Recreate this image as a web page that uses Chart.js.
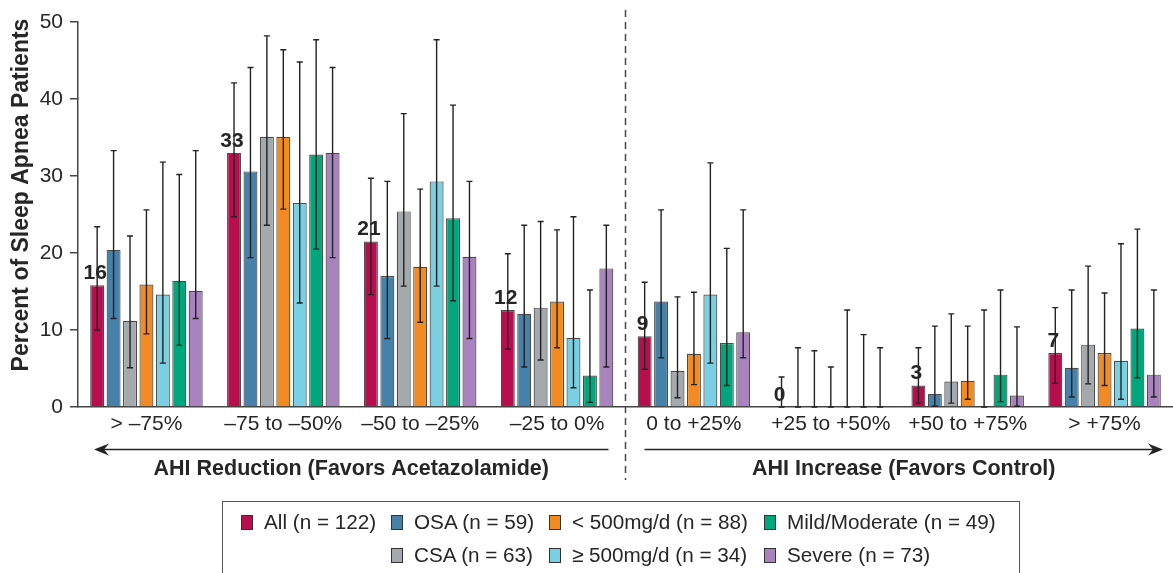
<!DOCTYPE html>
<html>
<head>
<meta charset="utf-8">
<script src="https://cdn.jsdelivr.net/npm/chart.js@4.4.1/dist/chart.umd.min.js"></script>
<style>
  body { margin: 0; background: #fff; font-family: "Liberation Sans", Arial, sans-serif; }
  #wrap { position: relative; width: 1173px; height: 573px; overflow: hidden; }
  #legend { position: absolute; left: 222px; top: 501px; width: 798px; height: 90px; border: 1.5px solid #555; box-sizing: border-box; }
  .item { position: absolute; font-size: 20.7px; color: #262626; white-space: nowrap; line-height: 24px; }
  .sw { display: inline-block; width: 10px; height: 13px; border: 1px solid #333; vertical-align: -1px; margin-right: 11px; }
</style>
</head>
<body>
<div id="wrap">
  <canvas id="chart" width="1173" height="573"></canvas>
  <div id="legend"></div>
</div>
<script>
// categories (AHI change)
const categories = ['> \u201375%', '\u201375 to \u201350%', '\u201350 to \u201325%', '\u201325 to 0%', '0 to +25%', '+25 to +50%', '+50 to +75%', '> +75%'];

// percent of patients, with lower / upper error limits
const allVals = [15.8, 33.0, 21.5, 12.6, 9.2, 0, 2.8, 7.0];
const allLo = [10.0, 24.7, 14.6, 7.5, 4.9, 0, 0.5, 3.1];
const allHi = [23.4, 42.1, 29.7, 19.9, 16.2, 3.9, 7.7, 12.9];

const osaVals = [20.4, 30.6, 17.0, 12.1, 13.7, 0, 1.7, 5.1];
const osaLo = [11.5, 19.4, 8.9, 5.2, 6.4, 0, 0.1, 1.3];
const osaHi = [33.3, 44.1, 29.3, 23.6, 25.6, 7.7, 10.5, 15.2];

const csaVals = [11.2, 35.1, 25.4, 12.9, 4.7, 0, 3.3, 8.1];
const csaLo = [5.1, 23.6, 15.7, 6.1, 1.2, 0, 0.5, 3.0];
const csaHi = [22.2, 48.2, 38.1, 24.1, 14.3, 7.3, 12.1, 18.3];

const lowDoseVals = [15.9, 35.1, 18.2, 13.7, 6.9, 0, 3.4, 7.0];
const lowDoseLo = [9.5, 25.7, 11.0, 7.7, 2.9, 0, 1.0, 2.8];
const lowDoseHi = [25.6, 46.4, 28.3, 23.0, 14.9, 5.2, 10.5, 14.8];

const highDoseVals = [14.6, 26.5, 29.3, 9.0, 14.6, 0, 0, 6.0];
const highDoseLo = [5.7, 13.5, 15.7, 2.5, 5.7, 0, 0, 1.0];
const highDoseHi = [31.8, 44.8, 47.7, 24.7, 31.7, 12.6, 12.6, 21.2];

const mildVals = [16.4, 32.8, 24.5, 4.1, 8.3, 0, 4.2, 10.2];
const mildLo = [8.0, 20.5, 13.8, 0.6, 2.8, 0, 0.7, 3.8];
const mildHi = [30.2, 47.7, 39.2, 15.2, 20.6, 9.4, 15.2, 23.1];

const severeVals = [15.1, 33.0, 19.5, 18.0, 9.7, 0, 1.5, 4.2];
const severeLo = [11.5, 19.4, 8.9, 5.2, 6.4, 0, 0.1, 1.3];
const severeHi = [33.3, 44.1, 29.3, 23.6, 25.6, 7.7, 10.4, 15.2];

// rounded labels above the "All" bars
const allLabels = ['16', '33', '21', '12', '9', '0', '3', '7'];

const yTicks = [0, 10, 20, 30, 40, 50];

const series = [
  { label: 'All (n = 122)', data: allVals, lo: allLo, hi: allHi, color: '#B70F4E' },
  { label: 'OSA (n = 59)', data: osaVals, lo: osaLo, hi: osaHi, color: '#4581A9' },
  { label: 'CSA (n = 63)', data: csaVals, lo: csaLo, hi: csaHi, color: '#A3A9AC' },
  { label: '< 500mg/d (n = 88)', data: lowDoseVals, lo: lowDoseLo, hi: lowDoseHi, color: '#F28C22' },
  { label: '\u2265 500mg/d (n = 34)', data: highDoseVals, lo: highDoseLo, hi: highDoseHi, color: '#7AD0E3' },
  { label: 'Mild/Moderate (n = 49)', data: mildVals, lo: mildLo, hi: mildHi, color: '#00A77C' },
  { label: 'Severe (n = 73)', data: severeVals, lo: severeLo, hi: severeHi, color: '#A883BE' }
];

const FONT = '"Liberation Sans", Arial, sans-serif';
const INK = '#262626';

// error bars, value labels, divider, arrows and titles
const extras = {
  id: 'extras',
  afterDatasetsDraw(chart) {
    const ctx = chart.ctx;
    const y = chart.scales.y;
    ctx.save();
    ctx.strokeStyle = '#222';
    ctx.lineWidth = 1.4;
    chart.data.datasets.forEach((ds, i) => {
      const meta = chart.getDatasetMeta(i);
      meta.data.forEach((bar, j) => {
        const yl = y.getPixelForValue(ds.lo[j]);
        const yh = y.getPixelForValue(ds.hi[j]);
        ctx.beginPath();
        ctx.moveTo(bar.x, yl); ctx.lineTo(bar.x, yh);
        ctx.moveTo(bar.x - 3, yl); ctx.lineTo(bar.x + 3, yl);
        ctx.moveTo(bar.x - 3, yh); ctx.lineTo(bar.x + 3, yh);
        ctx.stroke();
      });
    });

    // labels above All bars
    ctx.fillStyle = INK;
    ctx.font = 'bold 21px ' + FONT;
    ctx.textAlign = 'center';
    ctx.textBaseline = 'alphabetic';
    chart.getDatasetMeta(0).data.forEach((bar, j) => {
      ctx.fillText(allLabels[j], bar.x - 2, bar.y - 6);
    });
    ctx.restore();
  },
  afterDraw(chart) {
    const ctx = chart.ctx;
    const x = chart.scales.x;
    const xDiv = (x.getPixelForValue(3) + x.getPixelForValue(4)) / 2;
    ctx.save();
    ctx.strokeStyle = '#444';
    ctx.lineWidth = 1.5;
    ctx.setLineDash([7, 5]);
    ctx.beginPath();
    ctx.moveTo(xDiv, 10); ctx.lineTo(xDiv, 480);
    ctx.stroke();
    ctx.setLineDash([]);

    // arrows
    const ay = 449.5;
    const arrow = (x0, x1) => {
      const dir = Math.sign(x1 - x0);
      ctx.strokeStyle = '#222';
      ctx.lineWidth = 1.6;
      ctx.beginPath();
      ctx.moveTo(x0, ay); ctx.lineTo(x1 - dir * 8, ay);
      ctx.stroke();
      ctx.fillStyle = '#222';
      ctx.beginPath();
      ctx.moveTo(x1, ay);
      ctx.lineTo(x1 - dir * 15, ay - 6);
      ctx.lineTo(x1 - dir * 10, ay);
      ctx.lineTo(x1 - dir * 15, ay + 6);
      ctx.closePath();
      ctx.fill();
    };
    arrow(xDiv - 17, 94);
    arrow(xDiv + 19, 1163);

    ctx.fillStyle = INK;
    ctx.font = 'bold 21.5px ' + FONT;
    ctx.textAlign = 'center';
    ctx.textBaseline = 'middle';
    ctx.fillText('AHI Reduction (Favors Acetazolamide)', (94 + xDiv - 17) / 2, 469);
    ctx.fillText('AHI Increase (Favors Control)', (xDiv + 19 + 1163) / 2, 469);

    // y axis title
    ctx.font = 'bold 23px ' + FONT;
    ctx.translate(22, 195);
    ctx.rotate(-Math.PI / 2);
    ctx.fillText('Percent of Sleep Apnea Patients', 0, 0);
    ctx.restore();
  }
};

const ctx = document.getElementById('chart').getContext('2d');
new Chart(ctx, {
  type: 'bar',
  data: {
    labels: categories,
    datasets: series.map(s => ({
      label: s.label,
      data: s.data,
      lo: s.lo,
      hi: s.hi,
      backgroundColor: s.color,
      borderColor: 'rgba(45,45,45,0.85)',
      borderWidth: 1.2,
      categoryPercentage: 0.84,
      barPercentage: 0.85
    }))
  },
  options: {
    responsive: false,
    animation: false,
    layout: { padding: { top: 22, right: 0, bottom: 0, left: 0 } },
    plugins: { legend: { display: false }, tooltip: { enabled: false } },
    scales: {
      x: {
        grid: { display: false, drawTicks: false },
        border: { display: true, color: '#444', width: 1.5 },
        ticks: { font: { family: FONT, size: 21 }, color: INK, padding: 5, maxRotation: 0, autoSkip: false },
        afterFit: s => { s.height = 166; }
      },
      y: {
        min: 0, max: 50,
        afterBuildTicks: s => { s.ticks = yTicks.map(v => ({ value: v })); },
        ticks: { font: { family: FONT, size: 21 }, color: INK, padding: 7 },
        grid: { drawOnChartArea: false, drawTicks: true, tickLength: 8, color: '#444', lineWidth: 1.5 },
        border: { display: true, color: '#444', width: 1.5 },
        afterFit: s => { s.width = 78; }
      }
    }
  },
  plugins: [extras]
});

// legend in the original's 2-row, column-first layout
const legendSlots = [
  { s: 0, x: 18, row: 0 },
  { s: 1, x: 168, row: 0 }, { s: 2, x: 168, row: 1 },
  { s: 3, x: 326, row: 0 }, { s: 4, x: 326, row: 1 },
  { s: 5, x: 541, row: 0 }, { s: 6, x: 541, row: 1 }
];
const legend = document.getElementById('legend');
legendSlots.forEach(slot => {
  const s = series[slot.s];
  const el = document.createElement('div');
  el.className = 'item';
  el.style.left = slot.x + 'px';
  el.style.top = (slot.row === 0 ? 8 : 41) + 'px';
  el.innerHTML = '<span class="sw" style="background:' + s.color + '"></span>' + s.label;
  legend.appendChild(el);
});
</script>
</body>
</html>
